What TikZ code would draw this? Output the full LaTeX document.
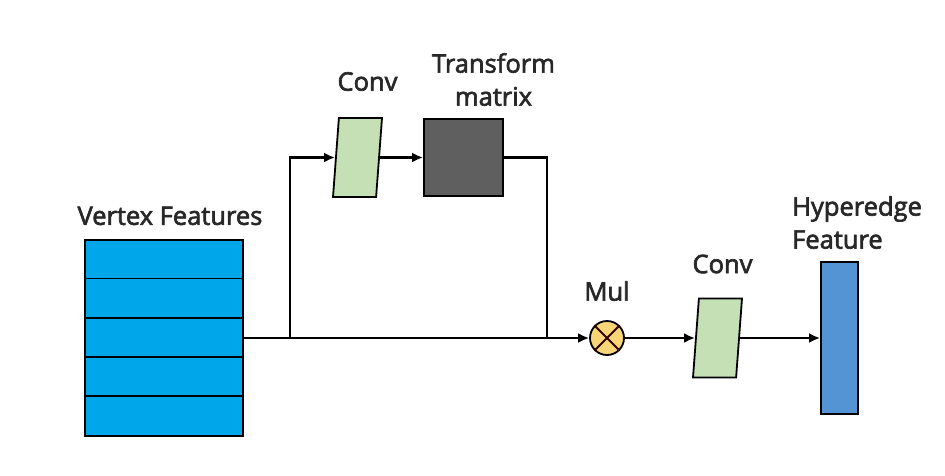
\documentclass[tikz,border=0pt]{standalone}
\usepackage{fontspec}
\setmainfont{Open Sans}[BoldFont=Open Sans, BoldFeatures={FakeBold=2.6}]
\usepackage{tikz}
\usetikzlibrary{positioning,shapes.geometric,arrows.meta}

\definecolor{vfblue}{RGB}{0,166,234}
\definecolor{convgreen}{RGB}{197,224,180}
\definecolor{tmgray}{RGB}{95,95,95}
\definecolor{mulorange}{RGB}{248,214,120}
\definecolor{heblue}{RGB}{84,148,212}
\definecolor{txtgray}{RGB}{40,40,40}

\tikzset{
  lbl/.style={inner sep=0pt, text=txtgray, font=\fontsize{25.5}{33}\selectfont\bfseries},
  feat/.style={draw, line width=1.5pt, inner sep=0pt},
  conv/.style={trapezium, trapezium left angle=81, trapezium right angle=99,
    trapezium stretches=true, draw, line width=1.8pt, fill=convgreen,
    minimum width=49pt, minimum height=79pt, inner sep=2pt},
  link/.style={line width=2.8pt, -{Latex[length=11pt,width=10pt]}}
}

\begin{document}
\begin{tikzpicture}[x=1pt, y=-1pt]

            \useasboundingbox (0,0) rectangle (945,475);

            \node[feat, fill=vfblue, minimum width=158pt, minimum height=196pt] (vf) at (164,338) {};
            \foreach \i in {1,...,4}
                \draw[line width=1.8pt] ([yshift=-\i*39.2pt]vf.north west) -- ([yshift=-\i*39.2pt]vf.north east) ; %
            \node[lbl, above=14pt of vf, xshift=6pt] (vflbl) {Vertex Features};

            \node[conv] (conv1) at (357.5,157.5) {};
            \node[lbl, above=26pt of conv1, xshift=10pt] (conv1lbl) {Conv};
            \node[feat, line width=1.8pt, fill=tmgray, minimum width=79pt, minimum height=77pt] (tm) at (463.5,157.5) {};
            \node[lbl, align=center, above=12pt of tm, xshift=30pt] (tmlbl) {Transform\\matrix};

            \node[circle, draw, line width=1.8pt, fill=mulorange, minimum size=34pt, inner sep=0pt] (mul) at (607,338) {};
            \draw[line width=1.8pt, black!80!red] (mul.north west) -- (mul.south east) (mul.north east) -- (mul.south west) ; %
            \node[lbl, above=19pt of mul] (mullbl) {Mul};

            \node[conv] (conv2) at (717.5,338) {};
            \node[lbl, above=24pt of conv2, xshift=5pt] (conv2lbl) {Conv};
            \node[feat, line width=1.8pt, fill=heblue, minimum width=37pt, minimum height=152pt] (he) at (839.5,338) {};
            \node[lbl, align=left, anchor=south west] (helbl) at (792,249) {Hyperedge\\Feature};

            \coordinate (j1) at (290,338);
            \coordinate (j2) at (547,338);

            \draw[link] (vf.east) -- (mul.west) ; %
            \draw[link] (j1) |- (conv1.west) ; %
            \draw[link] (conv1.east) -- (tm.west) ; %
            \draw[line width=2.8pt] (tm.east) -| (j2) ; %
            \draw[link] (mul.east) -- (conv2.west) ; %
            \draw[link] (conv2.east) -- (he.west) ; %

        \end{tikzpicture}
\end{document}
